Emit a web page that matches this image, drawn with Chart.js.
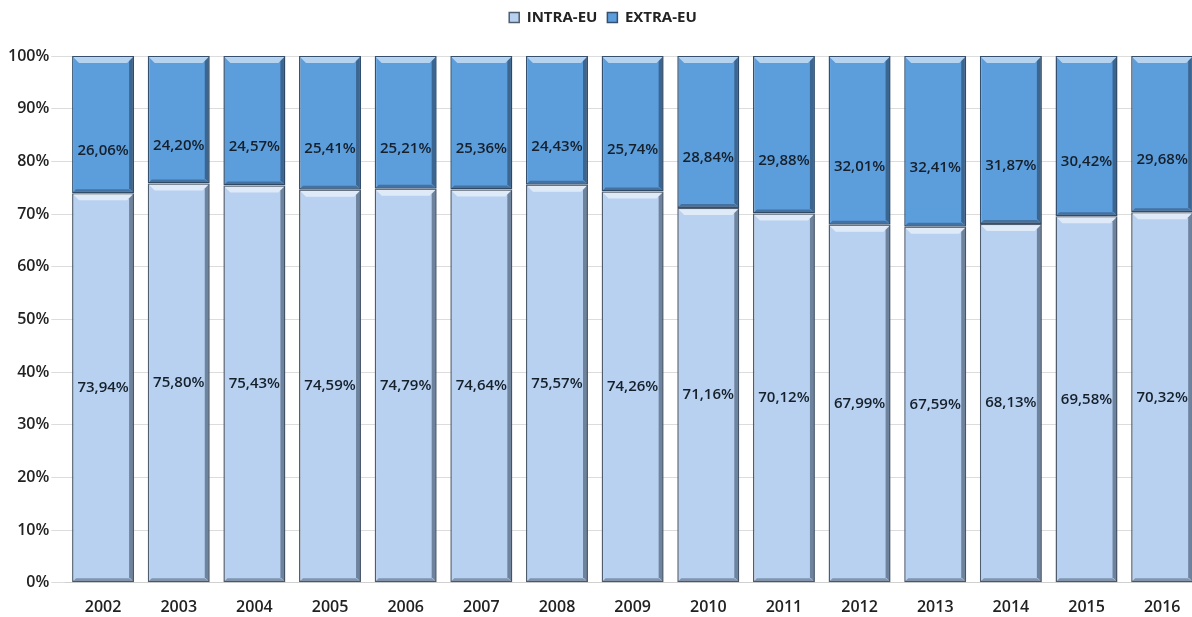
<!DOCTYPE html>
<html lang="es">
<head>
<meta charset="utf-8">
<title>INTRA-EU / EXTRA-EU</title>
<script src="https://cdn.jsdelivr.net/npm/chart.js@4.4.0/dist/chart.umd.min.js"></script>
<style>
  html, body { margin: 0; padding: 0; background: #fff; overflow: hidden; }
  #wrap { width: 1200px; height: 617px; }
</style>
</head>
<body>
<div id="wrap"><canvas id="chart"></canvas></div>
<script>
// datos
var years = ["2002","2003","2004","2005","2006","2007","2008","2009","2010","2011","2012","2013","2014","2015","2016"];
var intraEU = [73.94, 75.80, 75.43, 74.59, 74.79, 74.64, 75.57, 74.26, 71.16, 70.12, 67.99, 67.59, 68.13, 69.58, 70.32];
var extraEU = [26.06, 24.20, 24.57, 25.41, 25.21, 25.36, 24.43, 25.74, 28.84, 29.88, 32.01, 32.41, 31.87, 30.42, 29.68];
var yTicks = [0, 10, 20, 30, 40, 50, 60, 70, 80, 90, 100];

var FONT = "'Open Sans', 'Noto Sans', sans-serif";

function fmt(v) {
  return v.toFixed(2).replace(".", ",") + "%";
}

// espacio bajo la leyenda
var legendMargin = {
  id: "legendMargin",
  beforeInit: function (chart) {
    var fit = chart.legend.fit;
    chart.legend.fit = function () {
      fit.bind(chart.legend)();
      this.height += 21;
    };
  }
};

// etiquetas dentro de las barras
var labelPlugin = {
  id: "barLabels",
  afterDatasetsDraw: function (chart) {
    var ctx = chart.ctx;
    ctx.save();
    ctx.font = "600 15px " + FONT;
    ctx.fillStyle = "#15202b";
    ctx.textAlign = "center";
    ctx.textBaseline = "middle";
    chart.data.datasets.forEach(function (ds, i) {
      var meta = chart.getDatasetMeta(i);
      meta.data.forEach(function (bar, j) {
        var p = bar.getProps(["x", "y", "base"], true);
        var yc = (p.y + p.base) / 2;
        if (i === 1) yc += 26;
        ctx.fillText(fmt(ds.data[j]), p.x, yc);
      });
    });
    ctx.restore();
  }
};

// brillo superior tipo bisel
var bevelPlugin = {
  id: "bevel",
  afterDatasetsDraw: function (chart) {
    var ctx = chart.ctx;
    ctx.save();
    chart.data.datasets.forEach(function (ds, i) {
      var meta = chart.getDatasetMeta(i);
      meta.data.forEach(function (bar) {
        var p = bar.getProps(["x", "y", "base", "width"], true);
        var l = p.x - p.width / 2, r = p.x + p.width / 2;
        ctx.fillStyle = "rgba(255,255,255,0.55)";
        ctx.beginPath();
        ctx.moveTo(l + 1, p.y + 1);
        ctx.lineTo(r - 1, p.y + 1);
        ctx.lineTo(r - 7, p.y + 7);
        ctx.lineTo(l + 7, p.y + 7);
        ctx.closePath();
        ctx.fill();
        ctx.fillStyle = "rgba(20,35,55,0.45)";
        ctx.beginPath();
        ctx.moveTo(r - 1, p.y + 1);
        ctx.lineTo(r - 1, p.base - 1);
        ctx.lineTo(r - 5, p.base - 5);
        ctx.lineTo(r - 5, p.y + 5);
        ctx.closePath();
        ctx.fill();
        ctx.fillStyle = "rgba(20,35,55,0.35)";
        ctx.beginPath();
        ctx.moveTo(l + 1, p.base - 1);
        ctx.lineTo(r - 1, p.base - 1);
        ctx.lineTo(r - 5, p.base - 4);
        ctx.lineTo(l + 4, p.base - 4);
        ctx.closePath();
        ctx.fill();
      });
    });
    ctx.restore();
  }
};

var ctx = document.getElementById("chart").getContext("2d");
var chart = new Chart(ctx, {
  type: "bar",
  data: {
    labels: years,
    datasets: [
      {
        label: "INTRA-EU",
        data: intraEU,
        backgroundColor: "#b8d1f1",
        borderColor: "#4f5d6e",
        borderWidth: 1.5,
        borderSkipped: false,
        barPercentage: 0.82,
        categoryPercentage: 1.0
      },
      {
        label: "EXTRA-EU",
        data: extraEU,
        backgroundColor: "#5c9ddc",
        borderColor: "#34506e",
        borderWidth: 1.5,
        borderSkipped: false,
        barPercentage: 0.82,
        categoryPercentage: 1.0
      }
    ]
  },
  options: {
    responsive: true,
    maintainAspectRatio: false,
    animation: false,
    layout: { padding: { left: 6, right: 0, top: 0, bottom: -7 } },
    plugins: {
      legend: {
        position: "top",
        labels: {
          boxWidth: 10,
          boxHeight: 10,
          padding: 10,
          color: "#222",
          font: { family: FONT, size: 15, weight: "bold" }
        }
      },
      tooltip: { enabled: false }
    },
    scales: {
      x: {
        stacked: true,
        grid: { display: false },
        border: { display: true, color: "#d0d0d0" },
        ticks: { color: "#222", font: { family: FONT, size: 16, weight: "600" }, padding: 7 }
      },
      y: {
        stacked: true,
        min: 0,
        max: 100,
        afterBuildTicks: function (axis) {
          axis.ticks = yTicks.map(function (v) { return { value: v }; });
        },
        grid: { color: "#dcdcdc", drawTicks: true, tickLength: 14 },
        border: { display: false },
        ticks: {
          color: "#222",
          font: { family: FONT, size: 16, weight: "600" },
          padding: 2,
          callback: function (v) { return v + "%"; }
        }
      }
    }
  },
  plugins: [legendMargin, labelPlugin, bevelPlugin]
});
</script>
</body>
</html>
